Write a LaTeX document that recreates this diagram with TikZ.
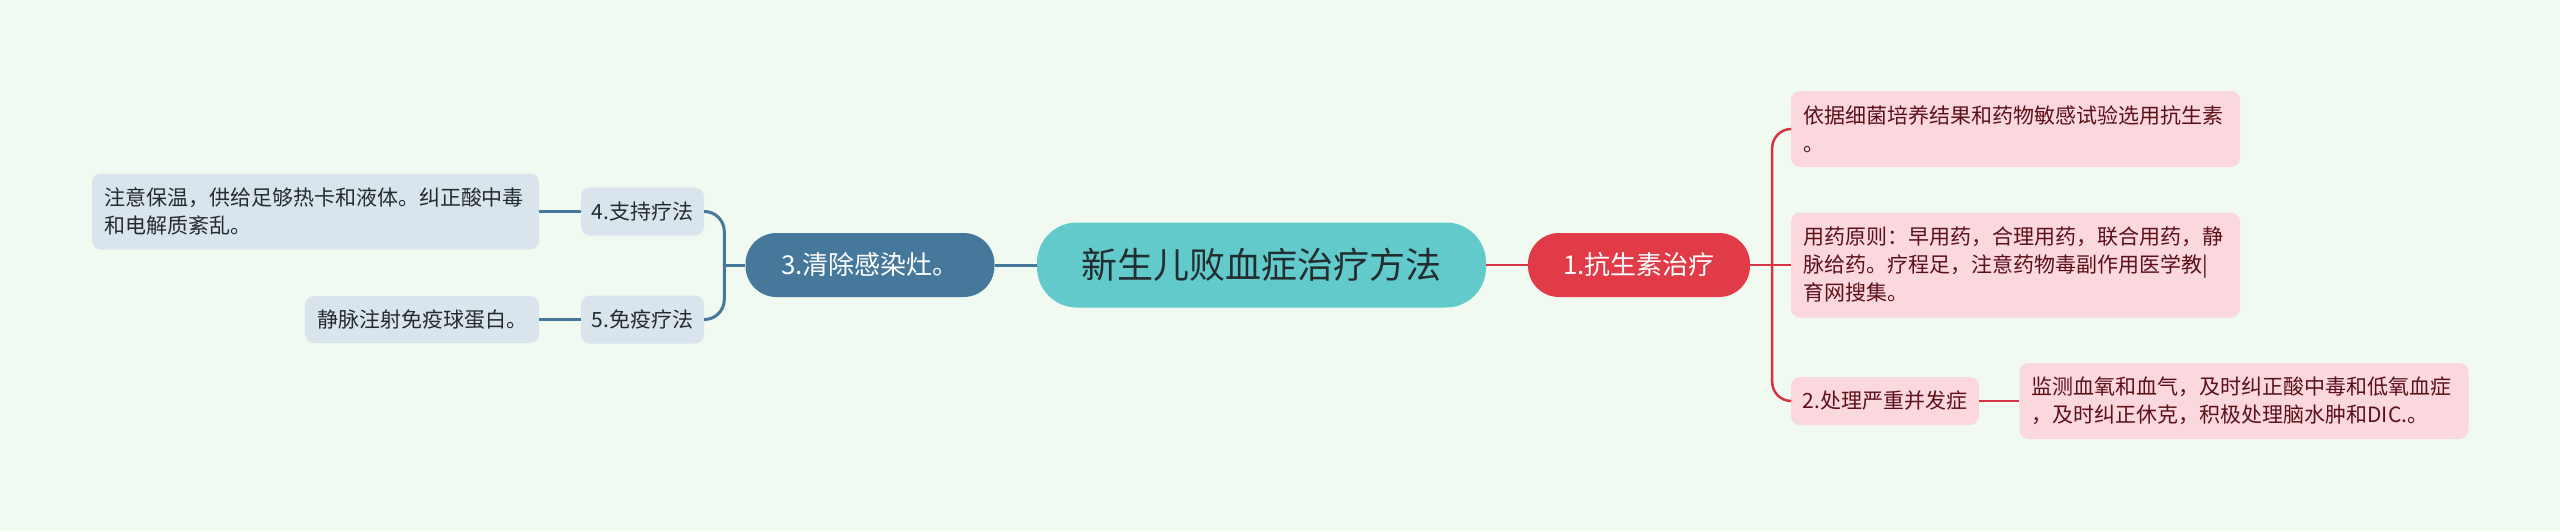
\documentclass[tikz,border=0pt]{standalone}
\usepackage{fontspec}
\setmainfont{Noto Sans CJK SC}
\definecolor{mybg}{RGB}{240,250,240}
\definecolor{myteal}{RGB}{98,202,203}
\definecolor{myblue}{RGB}{69,120,155}
\definecolor{mylightblue}{RGB}{218,228,236}
\definecolor{myred}{RGB}{226,59,72}
\definecolor{mylinered}{RGB}{214,52,66}
\definecolor{mypink}{RGB}{251,216,221}
\definecolor{mydarkred}{RGB}{92,16,24}
\definecolor{mydark}{RGB}{35,45,48}

\tikzset{
    rootnode/.style={fill=myteal, text=mydark, rounded corners=40pt, minimum width=449pt, minimum height=85pt, font=\fontsize{36}{43}\selectfont},
    mainnode/.style={text=white, rounded corners=31pt, minimum height=64pt, font=\fontsize{26}{31}\selectfont},
    subnode/.style={rounded corners=9pt, minimum height=48pt, font=\fontsize{21}{28}\selectfont},
    leafnode/.style={rounded corners=9pt, align=left, inner xsep=12pt, font=\fontsize{21}{28}\selectfont},
    blueline/.style={myblue, line width=3pt},
    redline/.style={mylinered, line width=2.5pt}
}

\begin{document}
\begin{tikzpicture}[x=1pt, y=-1pt]
    \fill[mybg] (0,0) rectangle (2560,531);

    % Central topic
    \node[rootnode] (root) at (1261.5, 265) {新生儿败血症治疗方法};

    % Left branch
    \begin{scope}
        \node[mainnode, fill=myblue, minimum width=249pt] (clean) at (870, 265) {3.清除感染灶。};
        \node[subnode, fill=mylightblue, text=mydark, minimum width=123pt] (support) at (642.5, 211.5) {4.支持疗法};
        \node[subnode, fill=mylightblue, text=mydark, minimum width=123pt] (immune) at (642.5, 319.5) {5.免疫疗法};
        \node[leafnode, fill=mylightblue, text=mydark, text width=423pt, minimum height=76pt] (supportnote) at (315.5, 211.5)
            {注意保温，供给足够热卡和液体。纠正酸中毒\\和电解质紊乱。};
        \node[leafnode, fill=mylightblue, text=mydark, text width=210pt, minimum height=47pt] (immunenote) at (422, 319.5)
            {静脉注射免疫球蛋白。};
        \coordinate (cleanj) at ([xshift=-21pt]clean.west);
        \draw[blueline] (root.west) -- (clean.east);
        \draw[blueline] (clean.west) -- (cleanj);
        \draw[blueline, rounded corners=20pt] (support.east) -| (cleanj) |- (immune.east);
        \draw[blueline] (supportnote.east) -- (support.west);
        \draw[blueline] (immunenote.east) -- (immune.west);
    \end{scope}

    % Right branch
    \begin{scope}
        \node[mainnode, fill=myred, minimum width=222pt] (anti) at (1639, 265) {1.抗生素治疗};
        \node[leafnode, fill=mypink, text=mydarkred, text width=425pt, minimum height=76pt] (basis) at (2015.5, 129)
            {依据细菌培养结果和药物敏感试验选用抗生素\\。};
        \node[leafnode, fill=mypink, text=mydarkred, text width=425pt, minimum height=105pt] (principle) at (2015.5, 265)
            {用药原则：早用药，合理用药，联合用药，静\\脉给药。疗程足，注意药物毒副作用医学教|\\育网搜集。};
        \node[subnode, fill=mypink, text=mydarkred, minimum width=188pt] (compl) at (1885, 401) {2.处理严重并发症};
        \node[leafnode, fill=mypink, text=mydarkred, text width=425pt, minimum height=76pt] (complnote) at (2244, 401)
            {监测血氧和血气，及时纠正酸中毒和低氧血症\\，及时纠正休克，积极处理脑水肿和DIC.。};
        \coordinate (antij) at ([xshift=22pt]anti.east);
        \draw[redline] (root.east) -- (anti.west);
        \draw[redline] (anti.east) -- (principle.west);
        \draw[redline, rounded corners=19pt] (basis.west) -| (antij) |- (compl.west);
        \draw[redline] (compl.east) -- (complnote.west);
    \end{scope}
\end{tikzpicture}
\end{document}
